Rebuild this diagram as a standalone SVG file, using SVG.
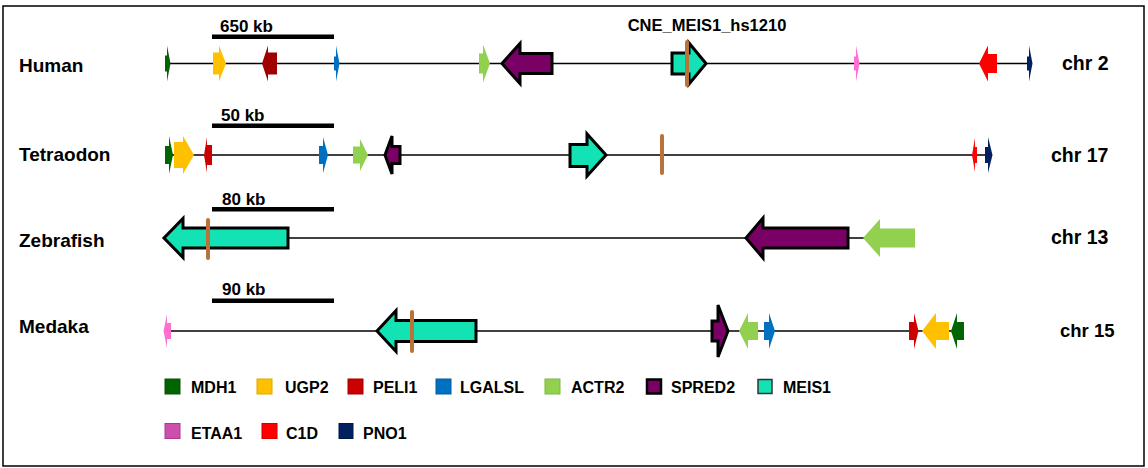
<svg xmlns="http://www.w3.org/2000/svg" width="1148" height="468" viewBox="0 0 1148 468">
  <style>
    text { font-family: "Liberation Sans", Arial, sans-serif; font-weight: bold; fill: #000; }
    .species { font-size: 19px; }
    .chr { font-size: 19.5px; }
    .scale { font-size: 17px; }
    .cne { font-size: 16.5px; }
    .leg { font-size: 16px; }
    .axis { stroke: #000; stroke-width: 1.6; fill: none; }
    .bar { fill: #000; }
    .out { stroke: #000; stroke-width: 3; stroke-linejoin: miter; }
    .cnebar { stroke: #b8733a; stroke-width: 4; stroke-linecap: round; }
    .mdh1 { fill: #006400; }
    .ugp2 { fill: #ffc000; }
    .peli1 { fill: #cc0000; }
    .peli1d { fill: #a00000; }
    .lgalsl { fill: #0070c0; }
    .actr2 { fill: #92d050; }
    .spred2 { fill: #7a0066; }
    .meis1 { fill: #12e2b4; }
    .etaa1 { fill: #ff6fd0; }
    .c1d { fill: #ff0000; }
    .pno1 { fill: #002060; }
    .sq { stroke-width: 1; }
  </style>

  <!-- frame -->
  <rect x="3" y="6" width="1141" height="460" fill="#fff" stroke="#000" stroke-width="1.5"/>

  <!-- chromosome axes -->
  <g id="connectors">
    <line class="axis" x1="166" y1="63.5" x2="1030" y2="63.5"/>
    <line class="axis" x1="166" y1="155" x2="990" y2="155"/>
    <line class="axis" x1="200" y1="238" x2="865" y2="238"/>
    <line class="axis" x1="168" y1="331" x2="960" y2="331"/>
  </g>

  <!-- species and chromosome labels -->
  <g id="labels">
    <text class="species" x="19" y="72">Human</text>
    <text class="species" x="19" y="161">Tetraodon</text>
    <text class="species" x="19" y="247">Zebrafish</text>
    <text class="species" x="19" y="333">Medaka</text>
    <text class="chr" x="1062" y="70">chr 2</text>
    <text class="chr" x="1051" y="162">chr 17</text>
    <text class="chr" x="1051" y="244">chr 13</text>
    <text class="chr" x="1060" y="337" style="font-size:18.5px">chr 15</text>
  </g>

  <!-- scale bars -->
  <g id="scalebars">
    <rect class="bar" x="212" y="34.5" width="122" height="4.5"/>
    <text class="scale" x="220" y="32">650 kb</text>
    <rect class="bar" x="212" y="123.5" width="122" height="4.5"/>
    <text class="scale" x="221" y="121">50 kb</text>
    <rect class="bar" x="212" y="207" width="122" height="4.5"/>
    <text class="scale" x="222" y="205">80 kb</text>
    <rect class="bar" x="212" y="298.5" width="122" height="4.5"/>
    <text class="scale" x="222" y="295">90 kb</text>
  </g>

  <!-- Human, chr 2 -->
  <g id="human">
    <polygon id="h-mdh1" class="mdh1" points="165,55.5 167,55.5 167,45.5 170.5,63.5 167,81.5 167,71.5 165,71.5"/>
    <polygon id="h-ugp2" class="ugp2" points="213,52.5 219,52.5 219,45.5 226,63.5 219,81.5 219,74.5 213,74.5"/>
    <polygon id="h-peli1" class="peli1d" points="277,52.5 268,52.5 268,45.5 262,63.5 268,81.5 268,74.5 277,74.5"/>
    <polygon id="h-lgalsl" class="lgalsl" points="334,56.5 336,56.5 336,45.5 339.5,63.5 336,81.5 336,70.5 334,70.5"/>
    <polygon id="h-actr2" class="actr2" points="479,53.5 483,53.5 483,44.5 490,63.5 483,82.5 483,73.5 479,73.5"/>
    <polygon id="h-spred2" class="spred2 out" points="552,53.5 520,53.5 520,43.5 502,63.5 520,83.5 520,73.5 552,73.5"/>
    <polygon id="h-meis1" class="meis1 out" points="672,53 689,53 689,43 706,63.5 689,84 689,74 672,74"/>
    <line id="h-cne" class="cnebar" x1="687" y1="42" x2="687" y2="85"/>
    <text class="cne" x="707" y="31" text-anchor="middle">CNE_MEIS1_hs1210</text>
    <polygon id="h-etaa1" class="etaa1" points="854,56.5 856,56.5 856,45.5 859.5,63.5 856,81.5 856,70.5 854,70.5"/>
    <polygon id="h-c1d" class="c1d" points="997,54 988,54 988,45.5 979,63.5 988,81.5 988,73 997,73"/>
    <polygon id="h-pno1" class="pno1" points="1027,56.5 1029,56.5 1029,45.5 1032.5,63.5 1029,81.5 1029,70.5 1027,70.5"/>
  </g>

  <!-- Tetraodon, chr 17 -->
  <g id="tetraodon">
    <polygon id="t-mdh1" class="mdh1" points="165,146 169,146 169,136 173,155 169,174 169,164 165,164"/>
    <polygon id="t-ugp2" class="ugp2" points="174,142 183,142 183,136 194,155 183,174 183,168 174,168"/>
    <polygon id="t-peli1" class="peli1" points="212,145 207,145 207,137 204,155 207,173 207,165 212,165"/>
    <polygon id="t-lgalsl" class="lgalsl" points="319,146 323,146 323,137 328,155 323,173 323,164 319,164"/>
    <polygon id="t-actr2" class="actr2" points="353,146.5 360,146.5 360,139 368,155 360,171 360,163.5 353,163.5"/>
    <polygon id="t-spred2" class="spred2 out" points="400,146.5 392,146.5 392,136 385,155 392,174 392,163.5 400,163.5"/>
    <polygon id="t-meis1" class="meis1 out" points="570,144.5 587,144.5 587,134 606,155 587,176 587,166.5 570,166.5"/>
    <line id="t-cne" class="cnebar" x1="662" y1="136" x2="662" y2="173"/>
    <polygon id="t-c1d" class="c1d" points="977,147 975,147 975,138 972,155 975,172 975,163 977,163"/>
    <polygon id="t-pno1" class="pno1" points="985,147 988,147 988,137 992.5,155 988,173 988,163 985,163"/>
  </g>

  <!-- Zebrafish, chr 13 -->
  <g id="zebrafish">
    <polygon id="z-meis1" class="meis1 out" points="288,228 183,228 183,218.5 164,238 183,257.5 183,248 288,248"/>
    <line id="z-cne" class="cnebar" x1="208" y1="220" x2="208" y2="258"/>
    <polygon id="z-spred2" class="spred2 out" points="848,228 763,228 763,218 746,238 763,258 763,248 848,248"/>
    <polygon id="z-actr2" class="actr2" points="915,228.5 880,228.5 880,219 863,238 880,257 880,247.5 915,247.5"/>
  </g>

  <!-- Medaka, chr 15 -->
  <g id="medaka">
    <polygon id="m-etaa1" class="etaa1" points="171,323 167,323 167,314 163.5,331 167,348 167,339 171,339"/>
    <polygon id="m-meis1" class="meis1 out" points="476,320.5 396,320.5 396,310.5 377,331 396,351.5 396,341.5 476,341.5"/>
    <line id="m-cne" class="cnebar" x1="412" y1="312" x2="412" y2="351"/>
    <polygon id="m-spred2" class="spred2 out" points="712,321 718,321 718,305 728,331 718,357 718,341 712,341"/>
    <polygon id="m-actr2" class="actr2" points="758,322 748,322 748,313 739,331 748,349 748,340 758,340"/>
    <polygon id="m-lgalsl" class="lgalsl" points="764,322 769,322 769,313 775,331 769,349 769,340 764,340"/>
    <polygon id="m-peli1" class="peli1" points="909,322 914,322 914,313 918.5,331 914,349 914,340 909,340"/>
    <polygon id="m-ugp2" class="ugp2" points="949,322 936,322 936,313 922,331 936,349 936,340 949,340"/>
    <polygon id="m-mdh1" class="mdh1" points="964,322 957,322 957,313 951,331 957,349 957,340 964,340"/>
  </g>

  <!-- legend -->
  <g id="legend">
    <rect class="mdh1 sq" x="165" y="379" width="15" height="15" stroke="#0d4d0d"/>
    <text class="leg" x="191" y="393">MDH1</text>
    <rect class="ugp2 sq" x="257" y="379" width="15" height="15" stroke="#e0a800"/>
    <text class="leg" x="285" y="393">UGP2</text>
    <rect class="peli1 sq" x="348" y="379" width="15" height="15" stroke="#a00000"/>
    <text class="leg" x="373" y="393">PELI1</text>
    <rect class="lgalsl sq" x="436" y="379" width="15" height="15" stroke="#0a5a9a"/>
    <text class="leg" x="460" y="393">LGALSL</text>
    <rect class="actr2 sq" x="545" y="379" width="15" height="15" stroke="#7cb840"/>
    <text class="leg" x="571" y="393">ACTR2</text>
    <rect class="spred2" x="647" y="379.5" width="14" height="14" stroke="#000" stroke-width="2.5"/>
    <text class="leg" x="671" y="393">SPRED2</text>
    <rect class="meis1" x="758" y="379.5" width="14" height="14" stroke="#333" stroke-width="1.5"/>
    <text class="leg" x="783" y="393">MEIS1</text>

    <rect class="sq" x="165" y="423.5" width="15" height="15" fill="#cc4fae" stroke="#a83a8e"/>
    <text class="leg" x="191" y="439">ETAA1</text>
    <rect class="c1d sq" x="262" y="423.5" width="15" height="15" stroke="#d00000"/>
    <text class="leg" x="286" y="439">C1D</text>
    <rect class="pno1 sq" x="339" y="423.5" width="14" height="15" stroke="#001848"/>
    <text class="leg" x="363" y="439">PNO1</text>
  </g>
</svg>
